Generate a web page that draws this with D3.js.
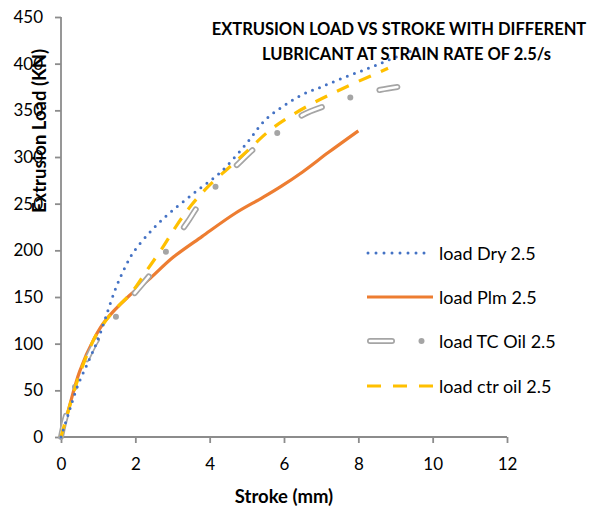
<!DOCTYPE html>
<html><head><meta charset="utf-8">
<script src="https://cdn.jsdelivr.net/npm/d3@7"></script>
<style>body{margin:0;background:#fff}svg{display:block}</style>
</head><body>
<svg id="c" width="600" height="506"></svg>
<script>
const xTicks = [0,2,4,6,8,10,12];
const yTicks = [0,50,100,150,200,250,300,350,400,450];
const seriesNames = ["load Dry 2.5","load Plm 2.5","load TC Oil 2.5","load ctr oil 2.5"];
const dryX = [0,0.2,0.45,0.75,1.0,1.2,1.45,1.7,1.95,2.45,2.95,3.6,4.3,5.0,5.5,6.0,6.5,7.0,7.6,8.2,8.7,9.2,9.6];
const dryY = [0,25,55,82,105,128,157,180,198,222,241,262,284,315,340,355,367,375,385,394,402,410,416];
const plmX = [0,0.2,0.5,0.9,1.2,1.8,2.4,3.0,3.8,4.7,5.4,5.9,6.5,7.2,8.0];
const plmY = [0,29,70,106,125,150,170,192,215,240,256,268,284,305,328];
const tcX = [0,0.1,0.38,0.73,1.0,1.5,2.0,2.4,2.85,3.4,3.7,4.2,4.8,5.2,5.9,6.5,7.2,7.9,8.6,9.05];
const tcY = [0,18,54,86,106,130,155,174,200,230,248,270,294,309,328,345,356,365,372,375];
const ctrX = [0,0.24,0.43,0.7,0.97,1.37,1.9,2.3,2.7,3.1,3.5,3.95,4.5,5.0,5.6,6.1,6.7,7.3,8.0,8.8];
const ctrY = [0,34,59,88,111,133,155,178,201,226,248,268,288,306,328,342,356,368,381,395];
const titleLines = ["EXTRUSION LOAD VS STROKE WITH DIFFERENT","LUBRICANT AT STRAIN RATE OF 2.5/s"];

const svg = d3.select("#c");
const FONT = "Lato, 'Open Sans', sans-serif";
const x = d3.scaleLinear().domain([0,12]).range([61,507]);
const y = d3.scaleLinear().domain([0,450]).range([437,17]);
const axisCol = "#8c8c8c";

// axes
const gx = svg.append("g").attr("transform","translate(0,437)")
  .call(d3.axisBottom(x).tickValues(xTicks).tickSize(6).tickPadding(15));
const gy = svg.append("g").attr("transform","translate(61,0)")
  .call(d3.axisLeft(y).tickValues(yTicks).tickSize(6).tickPadding(12));
[gx,gy].forEach(g=>{
  g.selectAll("path,line").attr("stroke",axisCol).attr("stroke-width",1.8);
  g.selectAll("text").attr("fill","#000").attr("font-size",17).attr("font-family",FONT);
});
gy.select("path.domain").attr("d","M0,437V17");
gx.select("path.domain").attr("d","M61,0H507");

const pts = (xs,ys)=>xs.map((v,i)=>[v,ys[i]]);
const line = d3.line().x(d=>x(d[0])).y(d=>y(d[1])).curve(d3.curveCatmullRom.alpha(0.5));

const plot = svg.append("g");
// Plm
plot.append("path").attr("d",line(pts(plmX,plmY))).attr("fill","none")
  .attr("stroke","#ED7D31").attr("stroke-width",3.2);
// TC oil: hollow capsule dash + dot
const tcD = line(pts(tcX,tcY));
plot.append("path").attr("d",tcD).attr("fill","none").attr("stroke","#A5A5A5")
  .attr("stroke-width",6).attr("stroke-linecap","round").attr("stroke-dasharray","22 30 0 30");
plot.append("path").attr("d",tcD).attr("fill","none").attr("stroke","#fff")
  .attr("stroke-width",2.6).attr("stroke-linecap","round").attr("stroke-dasharray","22 60");
// ctr oil
plot.append("path").attr("d",line(pts(ctrX,ctrY))).attr("fill","none")
  .attr("stroke","#FFC000").attr("stroke-width",3.2).attr("stroke-dasharray","13 11");
// Dry
plot.append("path").attr("d",line(pts(dryX,dryY))).attr("fill","none")
  .attr("stroke","#4472C4").attr("stroke-width",3).attr("stroke-linecap","round").attr("stroke-dasharray","0 7.5");

// title
svg.append("text").attr("y",35).attr("text-anchor","middle")
  .attr("font-family",FONT).attr("font-weight","bold").attr("font-size",16.5).attr("fill","#000")
  .selectAll("tspan").data(titleLines).join("tspan").attr("x",(d,i)=>i?406.5:399).attr("dy",(d,i)=>i?25:0).text(d=>d);

// axis titles
svg.append("text").attr("transform","translate(46,131) rotate(-90)").attr("text-anchor","middle")
  .attr("font-family",FONT).attr("font-weight","bold").attr("font-size",18.5).attr("fill","#000")
  .text("Extrusion Load (KN)");
svg.append("text").attr("x",284).attr("y",503).attr("text-anchor","middle")
  .attr("font-family",FONT).attr("font-weight","bold").attr("font-size",18.5).attr("fill","#000")
  .text("Stroke (mm)");

// legend
const ly = [253,297,341,386];
const lg = svg.append("g");
seriesNames.forEach((n,i)=>{
  const yy = ly[i];
  const p = lg.append("g");
  if(i===0) p.append("line").attr("x1",368).attr("x2",432).attr("y1",yy).attr("y2",yy)
     .attr("stroke","#4472C4").attr("stroke-width",3).attr("stroke-linecap","round").attr("stroke-dasharray","0 8");
  if(i===1) p.append("line").attr("x1",367).attr("x2",433).attr("y1",yy).attr("y2",yy)
     .attr("stroke","#ED7D31").attr("stroke-width",3.2);
  if(i===2){
    p.append("line").attr("x1",370).attr("x2",392).attr("y1",yy).attr("y2",yy)
     .attr("stroke","#A5A5A5").attr("stroke-width",6).attr("stroke-linecap","round");
    p.append("line").attr("x1",370).attr("x2",392).attr("y1",yy).attr("y2",yy)
     .attr("stroke","#fff").attr("stroke-width",2.6).attr("stroke-linecap","round");
    p.append("circle").attr("cx",421.5).attr("cy",yy).attr("r",3).attr("fill","#A5A5A5");
  }
  if(i===3) p.append("line").attr("x1",367).attr("x2",433).attr("y1",yy).attr("y2",yy)
     .attr("stroke","#FFC000").attr("stroke-width",3.2).attr("stroke-dasharray","14 12");
  lg.append("text").attr("x",439).attr("y",yy+6.5).attr("font-family",FONT).attr("font-size",18)
    .attr("fill","#000").text(n);
});
</script>
</body></html>
